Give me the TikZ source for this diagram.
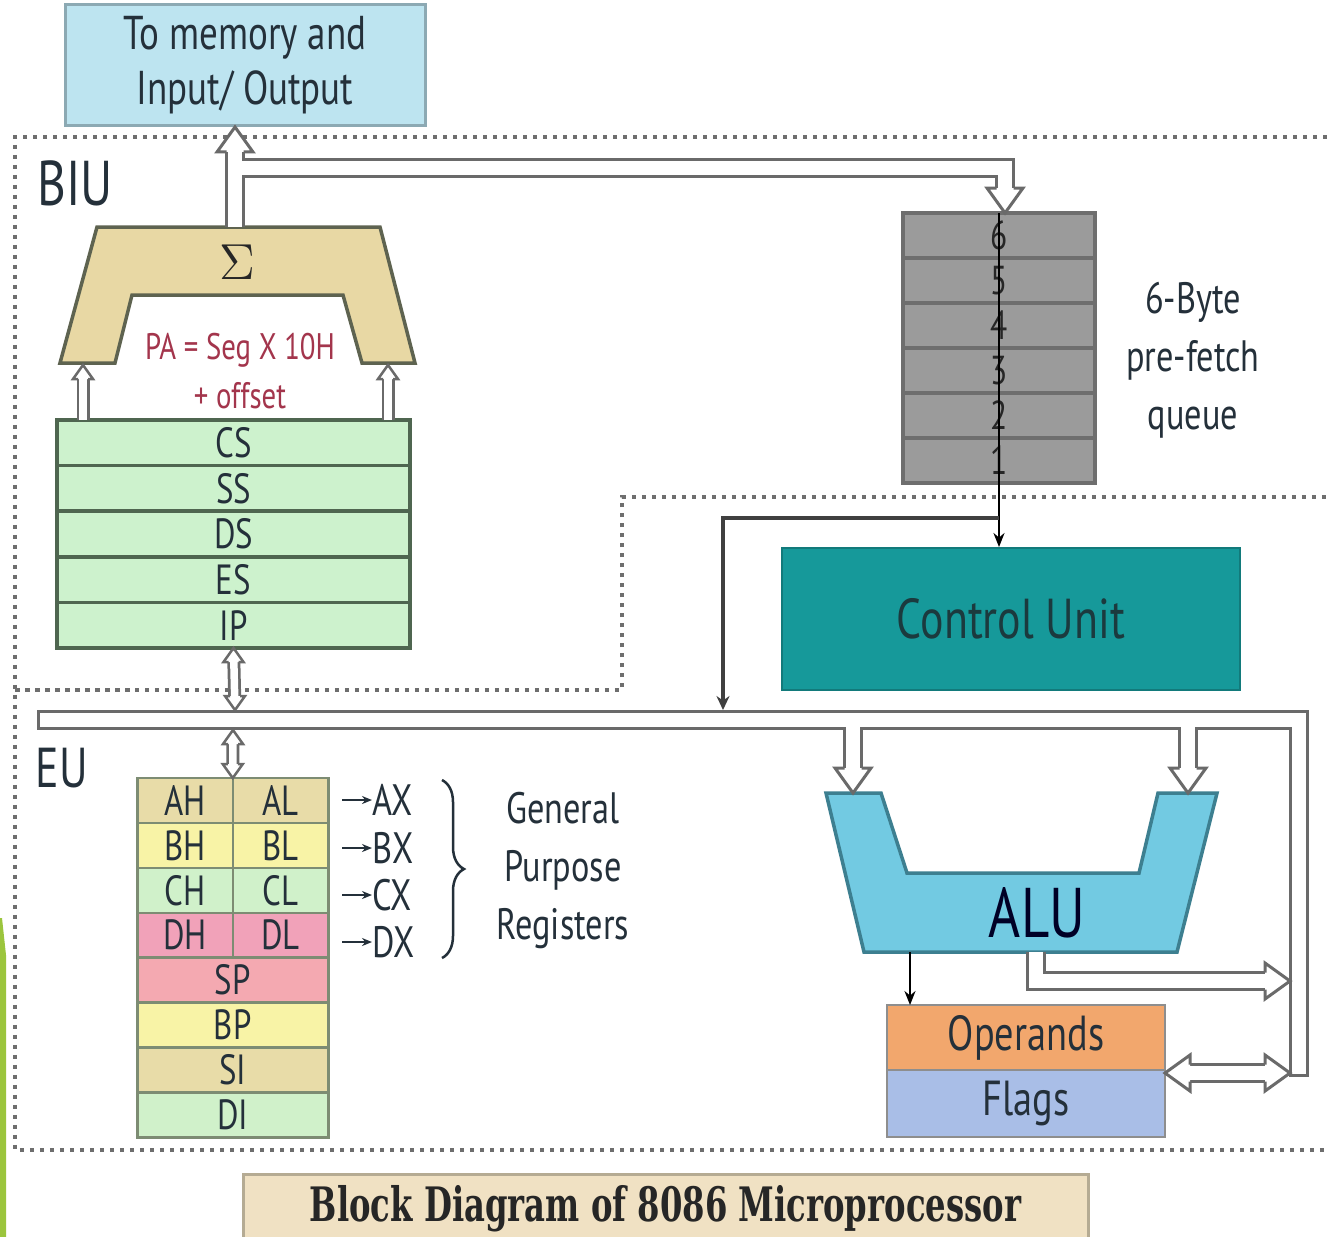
\documentclass[tikz,border=0pt]{standalone}
\usepackage{fontspec}
\setmainfont{PT Sans}[FakeStretch=0.78]
\newfontfamily\titlefont{DejaVu Serif}[FakeStretch=0.68]
\usetikzlibrary{positioning,arrows.meta,decorations.pathreplacing}

\definecolor{memfill}{HTML}{BDE4F0}
\definecolor{memline}{HTML}{8CA9B3}
\definecolor{addfill}{HTML}{E8D8A4}
\definecolor{addline}{HTML}{5E6350}
\definecolor{patext}{HTML}{A3354C}
\definecolor{segfill}{HTML}{CDF2CD}
\definecolor{segline}{HTML}{4F6650}
\definecolor{qfill}{HTML}{9B9B9B}
\definecolor{qline}{HTML}{6E6E6E}
\definecolor{cufill}{HTML}{16999A}
\definecolor{cutext}{HTML}{1B3A3E}
\definecolor{alufill}{HTML}{72CAE2}
\definecolor{aluline}{HTML}{3D7F90}
\definecolor{opfill}{HTML}{F2A76D}
\definecolor{flfill}{HTML}{A9BEE7}
\definecolor{boxline}{HTML}{8E8E8E}
\definecolor{ttlfill}{HTML}{F0E1C3}
\definecolor{ttlline}{HTML}{B5AB93}
\definecolor{busgray}{HTML}{6A6A6A}
\definecolor{zonegray}{HTML}{6E6E6E}
\definecolor{inkdark}{HTML}{24303A}
\definecolor{leafgreen}{HTML}{9BC53D}
\definecolor{rKhaki}{HTML}{E8DCA8}
\definecolor{rYellow}{HTML}{F8F3A6}
\definecolor{rGreen}{HTML}{D0F1CA}
\definecolor{rPink}{HTML}{F1A2B9}
\definecolor{rSalmon}{HTML}{F4A9B1}
\definecolor{regline}{HTML}{7D8C73}

\tikzset{
    bustip/.pic={\filldraw[fill=white, draw=busgray, line width=0.3mm, line join=miter]
        (-8.5,-25) -- (-18,-25) -- (0,0) -- (18,-25) -- (8.5,-25);},
    sbustip/.pic={\filldraw[fill=white, draw=busgray, line width=0.25mm, line join=miter]
        (-5,-14) -- (-10,-14) -- (0,0) -- (10,-14) -- (5,-14);}
}

\begin{document}
\begin{tikzpicture}[
        x=0.1mm, y=0.1mm,
        zone/.style={draw=zonegray, line width=0.45mm, dash pattern=on 0.45mm off 0.55mm},
        busout/.style={draw=busgray, line width=2mm, line join=miter},
        busin/.style={draw=white, line width=1.4mm, line join=miter},
        sbusout/.style={draw=busgray, line width=1.3mm},
        sbusin/.style={draw=white, line width=0.75mm},
        buscap/.style={draw=busgray, line width=0.3mm},
        thinarr/.style={draw=black, line width=0.25mm, -{Stealth[length=1.4mm, width=1.1mm]}},
        fbline/.style={draw=black!75, line width=0.45mm, -{Stealth[length=1.4mm, width=1.3mm]}},
        tinyarr/.style={draw=inkdark, line width=0.2mm, -{Stealth[length=1mm, width=0.8mm]}},
        brace/.style={draw=inkdark, line width=0.25mm, decorate, decoration={brace, amplitude=2.2mm}},
        membox/.style={draw=memline, fill=memfill, line width=0.3mm, minimum width=36mm, minimum height=11mm,
            align=center, text=inkdark, font=\fontsize{13.5}{15.6}\selectfont},
        unitlbl/.style={text=inkdark, inner sep=0pt},
        seg/.style={draw=segline, fill=segfill, line width=0.35mm, minimum width=35.3mm, minimum height=4.56mm,
            inner sep=0pt, outer sep=0pt, text=inkdark, font=\fontsize{12}{12}\selectfont},
        qrow/.style={draw=qline, fill=qfill, line width=0.35mm, minimum width=19.2mm, minimum height=4.5mm,
            inner sep=0pt, outer sep=0pt, text=black!85, font=\fontsize{11.5}{11.5}\selectfont},
        note/.style={align=center, text=inkdark, font=\fontsize{12.5}{16.5}\selectfont},
        hreg/.style={draw=regline, line width=0.25mm, minimum width=9.55mm, minimum height=4.49mm,
            inner sep=0pt, outer sep=0pt, text=inkdark, font=\fontsize{12}{12}\selectfont},
        wreg/.style={hreg, minimum width=19.1mm},
        regtxt/.style={text=inkdark, inner sep=0pt, font=\fontsize{12.5}{12.5}\selectfont},
        opbox/.style={draw=boxline, line width=0.25mm, minimum width=27.8mm, minimum height=6.5mm,
            inner sep=0pt, outer sep=0pt, text=inkdark, font=\fontsize{14}{14}\selectfont}
    ]

    \useasboundingbox (0,0) rectangle (1327,-1236);
    \fill[white] (0,0) rectangle (1327,-1236);

    % slide accent
    \fill[leafgreen] (0,-918) -- (2,-918) -- (6,-955) -- (6,-1240) -- (0,-1240) -- cycle;

    % BIU and EU borders
    \draw[zone] (1327,-137) -- (15,-137) -- (15,-1150) -- (1327,-1150);
    \draw[zone] (15,-690) -- (622,-690) -- (622,-497) -- (1327,-497);
    \node[unitlbl, font=\fontsize{18}{18}\selectfont] (biu) at (75,-183) {BIU};
    \node[unitlbl, font=\fontsize{16}{16}\selectfont] (eu) at (62,-768) {EU};

    % memory
    \node[membox] (mem) at (245,-65) {To memory and\\Input/ Output};

    % adder
    \filldraw[fill=addfill, draw=addline, line width=0.35mm]
        (97,-227) -- (380,-227) -- (415,-363) -- (362,-363) -- (343,-295)
        -- (132,-295) -- (115,-363) -- (60,-363) -- cycle;
    \node[text=black!85, font=\fontsize{15}{15}\selectfont] (sigma) at (237,-262) {$\Sigma$};
    \node[align=center, text=patext, font=\fontsize{10.5}{13.7}\selectfont] (pa) at (240,-371)
        {PA = Seg X 10H\\+ offset};

    % segment registers
    \node[seg] (cs) at (233.5,-442.8) {CS};
    \node[seg, below=0pt of cs] (ss) {SS};
    \node[seg, below=0pt of ss] (ds) {DS};
    \node[seg, below=0pt of ds] (es) {ES};
    \node[seg, below=0pt of es] (ip) {IP};

    % prefetch queue
    \node[qrow] (q6) at (999,-235.5) {6};
    \node[qrow, below=0pt of q6] (q5) {5};
    \node[qrow, below=0pt of q5] (q4) {4};
    \node[qrow, below=0pt of q4] (q3) {3};
    \node[qrow, below=0pt of q3] (q2) {2};
    \node[qrow, below=0pt of q2] (q1) {1};
    \node[note] (qnote) at (1193,-360) {6-Byte\\pre-fetch\\queue};

    % control unit
    \node[fill=cufill, draw=cufill!80!black, line width=0.2mm, minimum width=45.8mm, minimum height=14.2mm,
        text=cutext, font=\fontsize{16}{16}\selectfont] (cu) at (1011,-619) {Control Unit};

    % ALU
    \filldraw[fill=alufill, draw=aluline, line width=0.35mm]
        (826,-793) -- (881,-793) -- (907,-873) -- (1139,-873) -- (1158,-793)
        -- (1217,-793) -- (1177,-952) -- (864,-952) -- cycle;
    \node[text=black!85!blue, font=\fontsize{20}{20}\selectfont] (alutxt) at (1037,-913) {ALU};
    \node[opbox, fill=opfill] (oper) at (1026,-1037.5) {Operands};
    \node[opbox, fill=flfill, minimum height=6.7mm, below=0pt of oper] (flags) {Flags};

    % general purpose registers
    \node[hreg, fill=rKhaki] (ah) at (185,-800.5) {AH};
    \node[hreg, fill=rKhaki, right=0pt of ah] (al) {AL};
    \node[hreg, fill=rYellow, below=0pt of ah] (bh) {BH};
    \node[hreg, fill=rYellow, right=0pt of bh] (bl) {BL};
    \node[hreg, fill=rGreen, below=0pt of bh] (ch) {CH};
    \node[hreg, fill=rGreen, right=0pt of ch] (cl) {CL};
    \node[hreg, fill=rPink, below=0pt of ch] (dh) {DH};
    \node[hreg, fill=rPink, right=0pt of dh] (dl) {DL};
    \node[wreg, fill=rSalmon, anchor=north] (sp) at (dh.south east) {SP};
    \node[wreg, fill=rYellow, below=0pt of sp] (bp) {BP};
    \node[wreg, fill=rKhaki, below=0pt of bp] (si) {SI};
    \node[wreg, fill=rGreen, below=0pt of si] (di) {DI};

    \foreach \n/\t/\y in {ax/AX/-800, bx/BX/-848, cx/CX/-895, dx/DX/-942} {
        \node[regtxt, anchor=west] (\n) at (372,\y) {\t};
        \draw[tinyarr] ([xshift=-3mm]\n.west) -- (\n.west);
    }
    \coordinate (brt) at (442,-780);
    \coordinate (brb) at (442,-958);
    \draw[brace] (brt) -- (brb);
    \node[note] (gpr) at (563,-870) {General\\Purpose\\Registers};

    % title
    \node[fill=ttlfill, draw=ttlline, line width=0.3mm, minimum width=84.5mm, minimum height=6.4mm,
        font=\titlefont\bfseries\fontsize{13.5}{13.5}\selectfont, text=black!85] (ttl) at (665.5,-1209)
        {Block Diagram of 8086 Microprocessor};

    % bus points
    \coordinate (sumtop) at (235,-227);
    \coordinate (memtip) at (sumtop |- mem.south);
    \coordinate (biuj) at (235,-168);
    \coordinate (biuk) at (1005,-168);
    \coordinate (qtip) at (1005,-213);
    \coordinate (busL) at (38,-720);
    \coordinate (busR) at (1299,-720);
    \coordinate (busB) at (1299,-1075);
    \coordinate (aluinL) at (853,-720);
    \coordinate (alutipL) at (853,-793);
    \coordinate (aluinR) at (1188,-720);
    \coordinate (alutipR) at (1188,-793);
    \coordinate (aluout) at (1036,-952);
    \coordinate (aluoutk) at (1036,-981);
    \coordinate (outtip) at (1290,-981);
    \coordinate (opL) at (1165,-1073);
    \coordinate (opR) at (1290,-1073);
    \coordinate (eutop) at (235,-710);
    \coordinate (eubot) at (233,-730);
    \coordinate (regtop) at (ah.north east);
    \coordinate (sgl) at (83,-420);
    \coordinate (sgtipL) at (83,-365);
    \coordinate (sgr) at (388,-420);
    \coordinate (sgtipR) at (388,-365);

    % buses
    \foreach \lay in {busout, busin} {
        \draw[\lay, shorten >=2.5mm] (sumtop) -- (memtip);
        \draw[\lay, shorten >=2.5mm] (biuj) -- (biuk) -- (qtip);
        \draw[\lay] (busL) -- (busR) -- (busB);
        \draw[\lay, shorten >=2.5mm] (aluinL) -- (alutipL);
        \draw[\lay, shorten >=2.5mm] (aluinR) -- (alutipR);
        \draw[\lay, shorten >=2.5mm] (aluout) -- (aluoutk) -- (outtip);
        \draw[\lay, shorten <=2.5mm, shorten >=2.5mm] (opL) -- (opR);
    }
    \draw[buscap] (busL) ++(0,10) -- ++(0,-20);
    \draw[buscap] (busB) ++(-10,0) -- ++(20,0);
    \foreach \lay in {sbusout, sbusin} {
        \draw[\lay, shorten <=1.4mm, shorten >=1.4mm] (ip.south) -- (eutop);
        \draw[\lay, shorten <=1.4mm, shorten >=1.4mm] (eubot) -- (regtop);
        \draw[\lay, shorten >=1.4mm] (sgl) -- (sgtipL);
        \draw[\lay, shorten >=1.4mm] (sgr) -- (sgtipR);
    }

    % arrow heads
    \pic at (memtip) {bustip};
    \pic[rotate=180] at (qtip) {bustip};
    \pic[rotate=180] at (alutipL) {bustip};
    \pic[rotate=180] at (alutipR) {bustip};
    \pic[rotate=-90] at (outtip) {bustip};
    \pic[rotate=-90] at (opR) {bustip};
    \pic[rotate=90] at (opL) {bustip};
    \pic at (ip.south) {sbustip};
    \pic[rotate=180] at (eutop) {sbustip};
    \pic at (eubot) {sbustip};
    \pic[rotate=180] at (regtop) {sbustip};
    \pic at (sgtipL) {sbustip};
    \pic at (sgtipR) {sbustip};

    % control lines
    \coordinate (fbl) at (723,-518);
    \coordinate (fbr) at (q1.south |- fbl);
    \coordinate (fbend) at (723,-710);
    \coordinate (aluop) at (910,-952);
    \draw[thinarr] (q6.north) -- (q6.north |- cu.north);
    \draw[fbline] (fbr) -- (fbl) -- (fbend);
    \draw[thinarr] (aluop) -- (aluop |- oper.north);

\end{tikzpicture}
\end{document}
